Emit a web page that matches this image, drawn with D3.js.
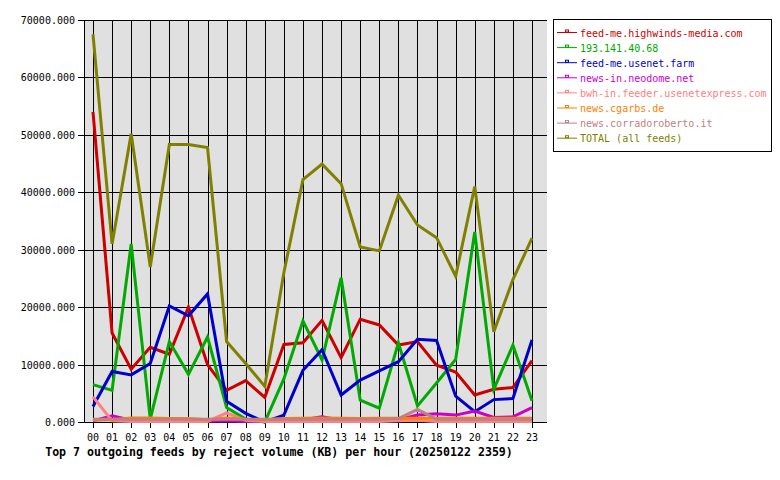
<!DOCTYPE html>
<html>
<head>
<meta charset="utf-8">
<script src="https://cdn.jsdelivr.net/npm/d3@7"></script>
<style>
body { margin: 0; background: #fff; }
svg { font-family: "DejaVu Sans Mono", monospace; }
</style>
</head>
<body>
<svg width="780" height="480"></svg>
<script>
var hours = ["00","01","02","03","04","05","06","07","08","09","10","11","12","13","14","15","16","17","18","19","20","21","22","23"];
var yTicks = [0,10000,20000,30000,40000,50000,60000,70000];

var feedNames = ["feed-me.highwinds-media.com","193.141.40.68","feed-me.usenet.farm","news-in.neodome.net","bwh-in.feeder.usenetexpress.com","news.cgarbs.de","news.corradoroberto.it","TOTAL (all feeds)"];
var feedColors = ["#cc0000","#00aa00","#0000cc","#cc00cc","#ff8080","#ff8000","#c08080","#808000"];

var highwinds = [54000,15500,9200,13000,11800,20000,10000,5500,7200,4300,13500,13800,17700,11200,17900,16900,13400,14000,9900,8700,4700,5700,6000,10700];
var ip193 = [6500,5500,31000,500,14000,8300,14800,2500,500,0,7500,17600,10800,25100,3800,2400,13800,2800,6800,10900,33100,5700,13400,3700];
var usenetFarm = [2700,8800,8200,10200,20200,18500,22300,3600,1500,0,1200,9000,12600,4700,7300,8900,10500,14400,14200,4500,1800,3900,4100,14300];
var neodome = [200,1100,300,200,100,100,150,200,100,100,300,400,900,300,500,200,400,1200,1450,1200,1900,800,900,2500];
var usenetexpress = [4400,200,100,100,100,100,100,1600,300,100,100,100,100,100,100,100,200,300,100,100,100,100,100,100];
var cgarbs = [300,400,700,700,600,600,400,700,500,400,600,650,700,650,600,650,650,650,650,650,650,650,650,650];
var corradoroberto = [500,500,500,500,500,500,500,500,500,500,500,500,500,500,500,500,600,2200,500,500,500,500,500,500];
var total = [67500,31000,50200,27000,48300,48300,47800,14000,10200,6200,26000,42200,44900,41500,30500,29800,39500,34300,32100,25400,41000,15700,24800,32000];

var series = [highwinds, ip193, usenetFarm, neodome, usenetexpress, cgarbs, corradoroberto, total];

var svg = d3.select("svg");
var plotLeft = 84, plotRight = 547, plotTop = 20, plotBottom = 422;

var x = d3.scalePoint().domain(hours).range([93, 532]);
var y = d3.scaleLinear().domain([0, 70000]).range([plotBottom, plotTop]);

svg.append("rect")
	.attr("x", plotLeft).attr("y", plotTop)
	.attr("width", plotRight - plotLeft).attr("height", plotBottom - plotTop)
	.attr("fill", "#e0e0e0");

// grid
svg.append("g").selectAll("line")
	.data(yTicks).enter().append("line")
		.attr("x1", plotLeft - 6).attr("x2", plotRight)
		.attr("y1", function(d) { return Math.round(y(d)) + 0.5; })
		.attr("y2", function(d) { return Math.round(y(d)) + 0.5; })
		.attr("stroke", "#000");

svg.append("g").selectAll("line")
	.data(hours).enter().append("line")
		.attr("x1", function(d) { return Math.round(x(d)) + 0.5; })
		.attr("x2", function(d) { return Math.round(x(d)) + 0.5; })
		.attr("y1", plotTop).attr("y2", plotBottom + 6)
		.attr("stroke", "#000");

svg.append("line")
	.attr("x1", plotLeft + 0.5).attr("x2", plotLeft + 0.5)
	.attr("y1", plotTop).attr("y2", plotBottom)
	.attr("stroke", "#000");

svg.append("g").selectAll("text")
	.data(yTicks).enter().append("text")
		.attr("x", plotLeft - 9)
		.attr("y", function(d) { return y(d) + 4; })
		.attr("text-anchor", "end")
		.attr("font-size", "10px")
		.text(function(d) { return d3.format(".3f")(d); });

svg.append("g").selectAll("text")
	.data(hours).enter().append("text")
		.attr("x", function(d) { return x(d); })
		.attr("y", 441)
		.attr("text-anchor", "middle")
		.attr("font-size", "10px")
		.text(function(d) { return d; });

svg.append("text")
	.attr("x", 279).attr("y", 456)
	.attr("text-anchor", "middle")
	.attr("font-size", "11.6px")
	.attr("font-weight", "bold")
	.text("Top 7 outgoing feeds by reject volume (KB) per hour (20250122 2359)");

var line = d3.line()
	.x(function(d, i) { return x(hours[i]); })
	.y(function(d) { return y(d); });

svg.append("g").selectAll("path")
	.data(series).enter().append("path")
		.attr("d", line)
		.attr("fill", "none")
		.attr("stroke", function(d, i) { return feedColors[i]; })
		.attr("stroke-width", 3)
		.attr("stroke-linejoin", "miter");

// legend
var legend = svg.append("g");
legend.append("rect")
	.attr("x", 553.5).attr("y", 19.5)
	.attr("width", 218).attr("height", 132)
	.attr("fill", "#fff").attr("stroke", "#000");

var entry = legend.selectAll("g.entry")
	.data(feedNames).enter().append("g")
		.attr("class", "entry")
		.attr("transform", function(d, i) { return "translate(0," + (32.5 + i * 15.1) + ")"; });

entry.append("line")
	.attr("x1", 557).attr("x2", 577)
	.attr("y1", 0).attr("y2", 0)
	.attr("stroke", function(d, i) { return feedColors[i]; })
	.attr("stroke-width", 1);

entry.append("rect")
	.attr("x", 565.5).attr("y", -2.5)
	.attr("width", 3).attr("height", 2)
	.attr("fill", "none")
	.attr("stroke", function(d, i) { return feedColors[i]; });

entry.append("text")
	.attr("x", 580).attr("y", 4)
	.attr("font-size", "10px")
	.attr("fill", function(d, i) { return feedColors[i]; })
	.text(function(d) { return d; });
</script>
</body>
</html>
